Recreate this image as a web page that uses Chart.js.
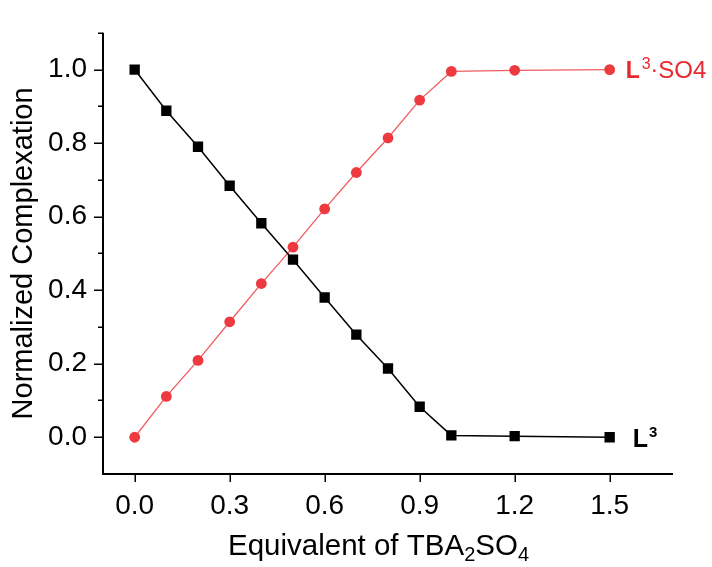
<!DOCTYPE html>
<html>
<head>
<meta charset="utf-8">
<script src="https://cdn.jsdelivr.net/npm/chart.js@4"></script>
<style>
  html, body { margin: 0; padding: 0; background: #fff; }
  #wrap { width: 712px; height: 567px; }
</style>
</head>
<body>
<div id="wrap"><canvas id="titration" width="712" height="567"></canvas></div>
<script>
// equivalents of TBA2SO4 added
const equivalents = [0, 0.1, 0.2, 0.3, 0.4, 0.5, 0.6, 0.7, 0.8, 0.9, 1.0, 1.2, 1.5];
// free ligand L3
const freeLigand = [1.0, 0.888, 0.790, 0.684, 0.582, 0.483, 0.380, 0.279, 0.187, 0.083, 0.005, 0.003, 0.0];
// complex L3.SO4
const complexed = [0.0, 0.111, 0.209, 0.314, 0.418, 0.517, 0.621, 0.720, 0.814, 0.917, 0.995, 0.998, 1.0];

const xTicks = [0, 0.3, 0.6, 0.9, 1.2, 1.5];
const yTicks = [0, 0.2, 0.4, 0.6, 0.8, 1.0];
const yMinorTicks = [0.1, 0.3, 0.5, 0.7, 0.9, 1.1];

const FONT = "'Liberation Sans', Arial, sans-serif";
const RED = "#ee3a3e";

const toPoints = ys => equivalents.map((x, i) => ({ x: x, y: ys[i] }));

// draws a run of text pieces (for sub/superscripts), left aligned from x
function drawRich(ctx, x, y, parts) {
    ctx.textAlign = "left";
    ctx.textBaseline = "alphabetic";
    parts.forEach(p => {
        ctx.font = p.font;
        ctx.fillStyle = p.color;
        ctx.fillText(p.text, x, y + (p.dy || 0));
        x += ctx.measureText(p.text).width + (p.gap || 0);
    });
}

const axesAndLabels = {
    id: "axesAndLabels",
    beforeDatasetsDraw(chart) {
        const ctx = chart.ctx;
        const xs = chart.scales.x, ys = chart.scales.y;
        const a = chart.chartArea;
        ctx.save();
        ctx.strokeStyle = "#000";
        ctx.lineWidth = 2;
        ctx.beginPath();
        ctx.moveTo(a.left, a.top);
        ctx.lineTo(a.left, a.bottom);
        ctx.lineTo(a.right, a.bottom);
        ctx.stroke();
        ctx.lineWidth = 1.5;
        ctx.beginPath();
        yTicks.forEach(v => {
            const py = Math.round(ys.getPixelForValue(v)) + 0.25;
            ctx.moveTo(a.left - 9, py); ctx.lineTo(a.left, py);
        });
        yMinorTicks.forEach(v => {
            const py = Math.round(ys.getPixelForValue(v)) + 0.25;
            ctx.moveTo(a.left - 5, py); ctx.lineTo(a.left, py);
        });
        xTicks.forEach(v => {
            const px = Math.round(xs.getPixelForValue(v)) + 0.25;
            ctx.moveTo(px, a.bottom); ctx.lineTo(px, a.bottom + 8);
        });
        ctx.stroke();

        // x axis title with subscripts
        const big = "29.5px " + FONT, small = "20px " + FONT;
        drawRich(ctx, a.left + 125, 555, [
            { text: "Equivalent of TBA", font: big, color: "#000" },
            { text: "2", font: small, color: "#000", dy: 6 },
            { text: "SO", font: big, color: "#000" },
            { text: "4", font: small, color: "#000", dy: 6 }
        ]);
        ctx.restore();
    },
    afterDatasetsDraw(chart) {
        const ctx = chart.ctx;
        const xs = chart.scales.x, ys = chart.scales.y;
        const last = equivalents.length - 1;
        ctx.save();
        // label of the complex curve
        let px = xs.getPixelForValue(equivalents[last]) + 16;
        let py = ys.getPixelForValue(complexed[last]) + 8;
        drawRich(ctx, px, py, [
            { text: "L", font: "bold 23px " + FONT, color: "#e8282c", gap: 2 },
            { text: "3", font: "16px " + FONT, color: "#e8282c", dy: -9, gap: 0 },
            { text: "\u00B7", font: "23px " + FONT, color: "#e8282c", dy: -1, gap: 0 },
            { text: "SO4", font: "24px " + FONT, color: "#e8282c" }
        ]);
        // label of the free ligand curve
        px = xs.getPixelForValue(equivalents[last]) + 23;
        py = ys.getPixelForValue(freeLigand[last]) + 10;
        drawRich(ctx, px, py, [
            { text: "L", font: "bold 25px " + FONT, color: "#000", gap: 1 },
            { text: "3", font: "bold 15px " + FONT, color: "#000", dy: -10 }
        ]);
        ctx.restore();
    }
};

const ctx = document.getElementById("titration").getContext("2d");
new Chart(ctx, {
    type: "line",
    data: {
        datasets: [{
            label: "L3",
            data: toPoints(freeLigand),
            borderColor: "#000",
            borderWidth: 1.5,
            backgroundColor: "#000",
            pointStyle: "rect",
            pointRadius: 7.3,
            pointBorderWidth: 0,
            tension: 0
        }, {
            label: "L3·SO4",
            data: toPoints(complexed),
            borderColor: "#f05c60",
            borderWidth: 1.3,
            backgroundColor: RED,
            pointStyle: "circle",
            pointRadius: 5.4,
            pointBorderWidth: 0,
            tension: 0
        }]
    },
    options: {
        responsive: false,
        animation: false,
        layout: { padding: { top: 14, right: 39, left: 0, bottom: 0 } },
        plugins: {
            legend: { display: false },
            tooltip: { enabled: false }
        },
        scales: {
            x: {
                type: "linear",
                min: -0.1,
                max: 1.7,
                afterBuildTicks: s => { s.ticks = xTicks.map(v => ({ value: v })); },
                afterFit: s => { s.height = 93; },
                grid: { display: false, drawTicks: false },
                border: { display: false },
                ticks: {
                    padding: 15,
                    color: "#000",
                    font: { family: FONT, size: 28 },
                    callback: v => Number(v).toFixed(1)
                }
            },
            y: {
                min: -0.1,
                max: 1.1,
                afterBuildTicks: s => { s.ticks = yTicks.map(v => ({ value: v })); },
                afterFit: s => { s.width = 103; },
                grid: { display: false, drawTicks: false },
                border: { display: false },
                ticks: {
                    padding: 16,
                    color: "#000",
                    font: { family: FONT, size: 28 },
                    callback: v => Number(v).toFixed(1)
                },
                title: {
                    display: true,
                    text: "Normalized Complexation",
                    color: "#000",
                    font: { family: FONT, size: 29 },
                    padding: { top: 7, bottom: 0 }
                }
            }
        }
    },
    plugins: [axesAndLabels]
});
</script>
</body>
</html>
